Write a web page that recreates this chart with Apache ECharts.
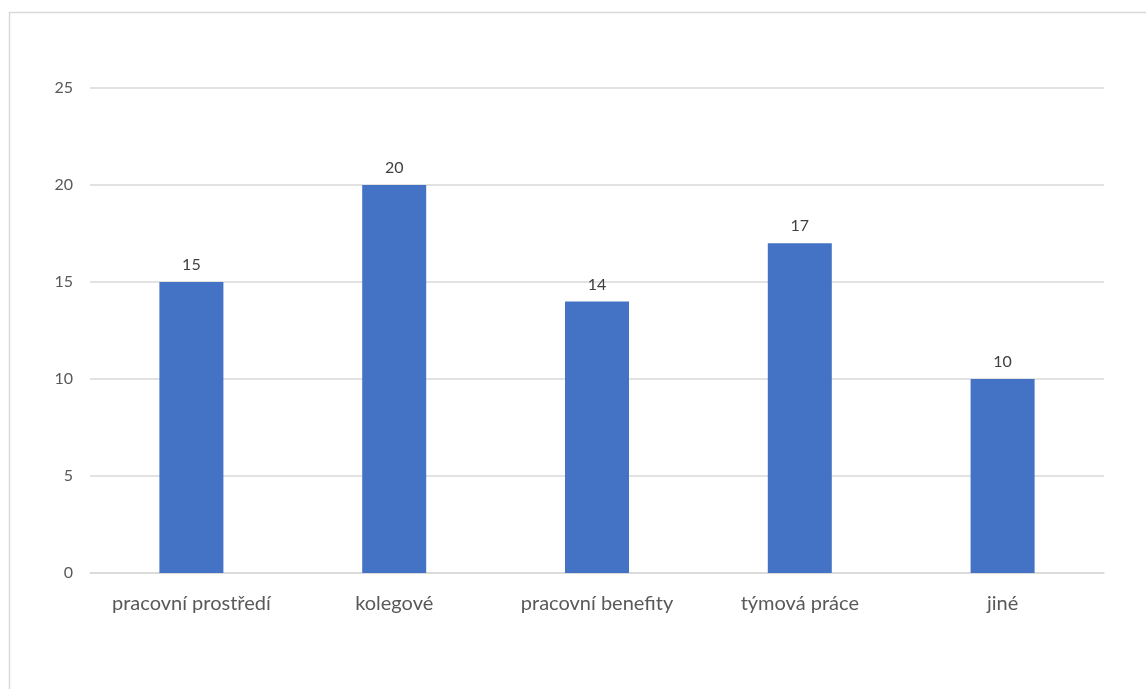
<!DOCTYPE html>
<html>
<head>
<meta charset="utf-8">
<script src="https://cdn.jsdelivr.net/npm/echarts@6/dist/echarts.min.js"></script>
<style>
  html, body { margin: 0; padding: 0; background: #fff; }
  #chart { width: 1146px; height: 689px; }
</style>
</head>
<body>
<div id="chart"></div>
<script>
// Categories and counts
const categories = ['pracovní prostředí', 'kolegové', 'pracovní benefity', 'týmová práce', 'jiné'];
const counts = [15, 20, 14, 17, 10];
const yTicks = { min: 0, max: 25, step: 5 };

const chart = echarts.init(document.getElementById('chart'));
chart.setOption({
  animation: false,
  backgroundColor: '#ffffff',
  textStyle: { fontFamily: 'Lato, Open Sans, sans-serif' },
  graphic: [{
    type: 'rect',
    shape: { x: 9.5, y: 12.5, width: 1300, height: 800 },
    style: { fill: 'none', stroke: '#d9d9d9', lineWidth: 1.5 },
    silent: true
  }],
  grid: { left: 90, right: 42, top: 88, bottom: 116, containLabel: false },
  xAxis: {
    type: 'category',
    data: categories,
    axisLine: { show: true, lineStyle: { color: '#d9d9d9', width: 1.5 } },
    axisTick: { show: false },
    axisLabel: { color: '#595959', fontSize: 20, margin: 21, interval: 0, fontFamily: 'Lato' }
  },
  yAxis: {
    type: 'value',
    min: yTicks.min,
    max: yTicks.max,
    interval: yTicks.step,
    axisLine: { show: false },
    axisTick: { show: false },
    splitLine: { lineStyle: { color: '#d9d9d9', width: 1.5 } },
    axisLabel: { color: '#595959', fontSize: 16, margin: 17, fontFamily: 'Lato' }
  },
  series: [{
    type: 'bar',
    data: counts,
    barWidth: 64,
    itemStyle: { color: '#4472c4' },
    label: { show: true, position: 'top', color: '#404040', fontSize: 16, distance: 9, fontFamily: 'Lato' }
  }]
});
</script>
</body>
</html>
